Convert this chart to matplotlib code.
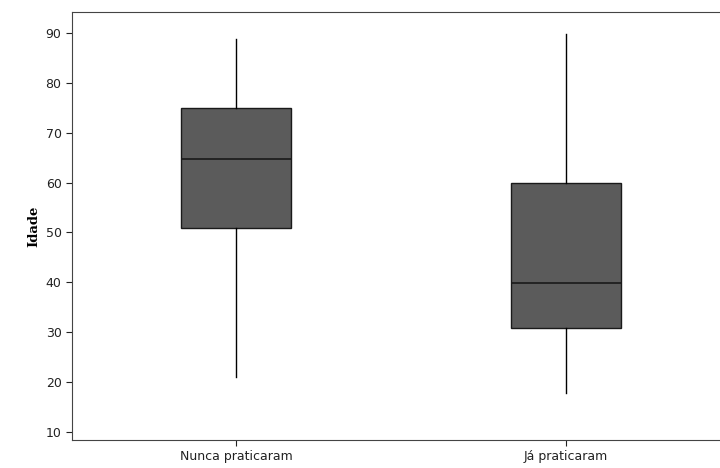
import matplotlib
matplotlib.use("Agg")
import matplotlib.pyplot as plt

groups = ["Nunca praticaram", "Já praticaram"]
whislo = [21.1, 17.8]
q1 = [50.8, 30.8]
med = [64.8, 39.8]
q3 = [75.0, 59.9]
whishi = [88.7, 89.7]

stats = []
for i in range(len(groups)):
    stats.append({"label": groups[i], "whislo": whislo[i], "q1": q1[i],
                  "med": med[i], "q3": q3[i], "whishi": whishi[i], "fliers": []})

fig = plt.figure(figsize=(7.2, 4.68), dpi=100)
ax = fig.add_axes([72/720, 28/468, 650/720, 428/468])

ax.bxp(stats, positions=[1, 2], widths=0.333, showcaps=False, patch_artist=True,
       boxprops=dict(facecolor="#5b5b5b", edgecolor="#1a1a1a", linewidth=1.0),
       medianprops=dict(color="#1a1a1a", linewidth=1.2),
       whiskerprops=dict(color="black", linewidth=1.0))

ax.set_xlim(0.503, 2.473)
ax.set_ylim(8.4, 94.2)
ax.set_yticks([10, 20, 30, 40, 50, 60, 70, 80, 90])
ax.set_xticks([1, 2])
ax.set_xticklabels(groups)
ax.tick_params(labelsize=9, colors="#222222", length=4)
for s in ax.spines.values():
    s.set_color("#444444")
ax.spines["right"].set_visible(False)
ax.set_ylabel("Idade", family="DejaVu Serif", fontweight="bold", fontsize=9.5)

fig.savefig("out.png", dpi=100)
